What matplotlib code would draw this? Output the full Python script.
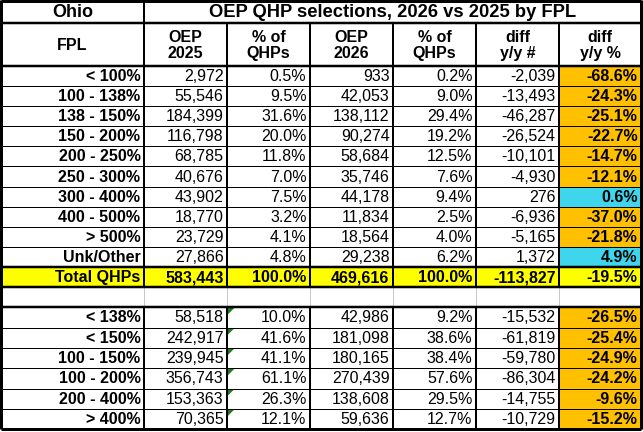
import matplotlib.pyplot as plt
from matplotlib.patches import Rectangle, Polygon

fpl_labels = ['< 100%', '100 - 138%', '138 - 150%', '150 - 200%', '200 - 250%',
              '250 - 300%', '300 - 400%', '400 - 500%', '> 500%', 'Unk/Other']
oep_2025 = [2972, 55546, 184399, 116798, 68785, 40676, 43902, 18770, 23729, 27866]
pct_2025 = [0.5, 9.5, 31.6, 20.0, 11.8, 7.0, 7.5, 3.2, 4.1, 4.8]
oep_2026 = [933, 42053, 138112, 90274, 58684, 35746, 44178, 11834, 18564, 29238]
pct_2026 = [0.2, 9.0, 29.4, 19.2, 12.5, 7.6, 9.4, 2.5, 4.0, 6.2]
diff_num = [-2039, -13493, -46287, -26524, -10101, -4930, 276, -6936, -5165, 1372]
diff_pct = [-68.6, -24.3, -25.1, -22.7, -14.7, -12.1, 0.6, -37.0, -21.8, 4.9]

total_label = 'Total QHPs'
total_vals = [583443, 100.0, 469616, 100.0, -113827, -19.5]

group_labels = ['< 138%', '< 150%', '100 - 150%', '100 - 200%', '200 - 400%', '> 400%']
grp_2025 = [58518, 242917, 239945, 356743, 153363, 70365]
grp_pct_2025 = [10.0, 41.6, 41.1, 61.1, 26.3, 12.1]
grp_2026 = [42986, 181098, 180165, 270439, 138608, 59636]
grp_pct_2026 = [9.2, 38.6, 38.4, 57.6, 29.5, 12.7]
grp_diff_num = [-15532, -61819, -59780, -86304, -14755, -10729]
grp_diff_pct = [-26.5, -25.4, -24.9, -24.2, -9.6, -15.2]

state = 'Ohio'
title = 'OEP QHP selections, 2026 vs 2025 by FPL'
col_heads = ['FPL', 'OEP\n2025', '% of\nQHPs', 'OEP\n2026', '% of\nQHPs', 'diff\ny/y #', 'diff\ny/y %']

# layout (pixels)
col_x = [1, 144, 227, 310, 393, 476, 559, 641]
row_h = [23, 43] + [20.1] * 10 + [20.3, 20] + [20.3] * 6
row_y = [0]
for h in row_h:
    row_y.append(row_y[-1] + h)

ORANGE = '#FFC000'
CYAN = '#3FD5EC'
YELLOW = '#FFFF00'
FONT = 'Liberation Sans'
FS = 11.5
PX = 0.72  # one pixel in points at 100 dpi

fig = plt.figure(figsize=(6.43, 4.32), dpi=100)
ax = fig.add_axes([0, 0, 1, 1])
ax.set_xlim(0, 643)
ax.set_ylim(432, 0)
ax.axis('off')


def fill(c0, c1, r, color):
    ax.add_patch(Rectangle((col_x[c0], row_y[r]), col_x[c1] - col_x[c0],
                           row_y[r + 1] - row_y[r], color=color, lw=0, zorder=1))


def cell_text(c, r, s, bold=False, align='right'):
    yc = (row_y[r] + row_y[r + 1]) / 2 + 0.5
    if align == 'right':
        x, ha = col_x[c + 1] - 3.5, 'right'
    else:
        x, ha = (col_x[c] + col_x[c + 1]) / 2, 'center'
    ax.text(x, yc, s, ha=ha, va='center', fontsize=FS, family=FONT,
            fontweight='bold' if bold else 'normal', zorder=5)


def row_values(r, label, vals, bold_all=False):
    cell_text(0, r, label, bold=True)
    strs = [f'{vals[0]:,}', f'{vals[1]:.1f}%', f'{vals[2]:,}', f'{vals[3]:.1f}%',
            f'{vals[4]:,}', f'{vals[5]:.1f}%']
    for i, s in enumerate(strs):
        cell_text(i + 1, r, s, bold=bold_all or i == 5)


# headers
ax.text((col_x[0] + col_x[1]) / 2, row_y[1] / 2 + 1, state, ha='center', va='center',
        fontsize=13, fontweight='bold', family=FONT)
ax.text((col_x[1] + col_x[7]) / 2, row_y[1] / 2 + 1, title, ha='center', va='center',
        fontsize=13.2, fontweight='bold', family=FONT)
for i, h in enumerate(col_heads):
    ax.text((col_x[i] + col_x[i + 1]) / 2, (row_y[1] + row_y[2]) / 2 + 1, h,
            ha='center', va='center', fontsize=11.5, fontweight='bold',
            family=FONT, linespacing=1.15)

# upper section
for k, lab in enumerate(fpl_labels):
    r = 2 + k
    fill(6, 7, r, ORANGE if diff_pct[k] < 0 else CYAN)
    row_values(r, lab, [oep_2025[k], pct_2025[k], oep_2026[k], pct_2026[k],
                        diff_num[k], diff_pct[k]])

# total row
r_tot = 2 + len(fpl_labels)
fill(0, 7, r_tot, YELLOW)
row_values(r_tot, total_label, total_vals, bold_all=True)

# lower section
r_blank = r_tot + 1
for k, lab in enumerate(group_labels):
    r = r_blank + 1 + k
    fill(6, 7, r, ORANGE if grp_diff_pct[k] < 0 else CYAN)
    row_values(r, lab, [grp_2025[k], grp_pct_2025[k], grp_2026[k], grp_pct_2026[k],
                        grp_diff_num[k], grp_diff_pct[k]])
    x0, y0 = col_x[2] + 1, row_y[r] + 0.5
    ax.add_patch(Polygon([(x0, y0), (x0 + 6.5, y0), (x0, y0 + 6.5)], closed=True,
                         color='#1F7A1F', lw=0, zorder=6))

# horizontal lines
n_rows = len(row_h)
thick_rows = {1, 2, r_tot, r_tot + 1, r_blank + 1}
for r in range(1, n_rows):
    lw = 2.5 * PX if r in thick_rows else 1 * PX
    ax.hlines(row_y[r], col_x[0], col_x[7], color='black', lw=lw, zorder=7)
ax.hlines(row_y[0] + 1, col_x[0], col_x[7], color='black', lw=3 * PX, zorder=8)
ax.hlines(row_y[-1], col_x[0], col_x[7], color='black', lw=3 * PX, zorder=8)

# vertical lines
for ci, x in enumerate(col_x):
    if ci in (0, 7):
        ax.vlines(x, row_y[0], row_y[-1], color='black', lw=3 * PX, zorder=8)
        continue
    top = row_y[0] if ci == 1 else row_y[1]
    ax.vlines(x, top, row_y[r_blank], color='black', lw=2 * PX, zorder=7)
    ax.vlines(x, row_y[r_blank], row_y[r_blank + 1], color='#C8C8C8', lw=1 * PX, zorder=6)
    ax.vlines(x, row_y[r_blank + 1], row_y[-1], color='black', lw=2 * PX, zorder=7)

fig.savefig('out.png', dpi=100)
